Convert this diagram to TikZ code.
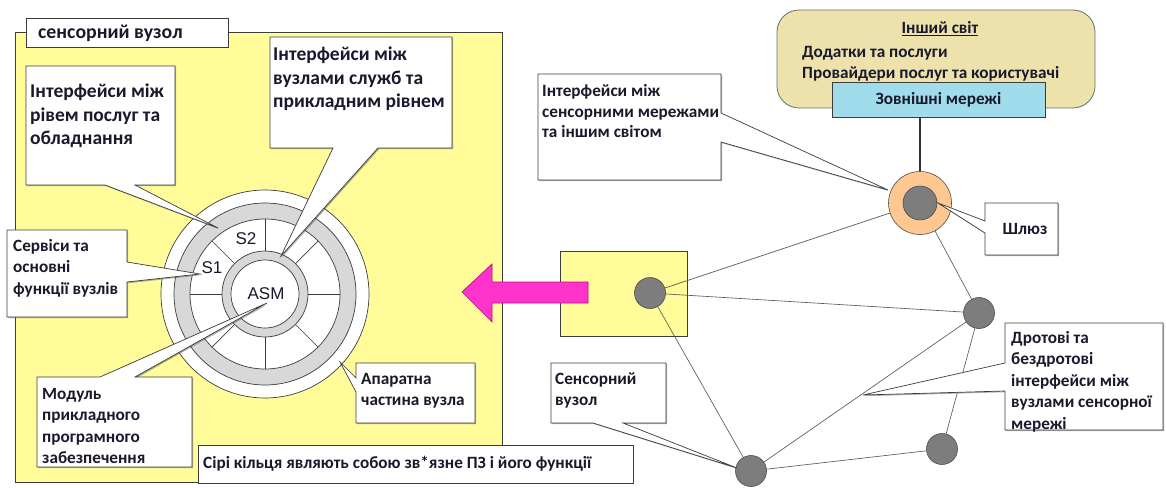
\documentclass[tikz,border=0pt]{standalone}
\usepackage{fontspec}
\setmainfont{Carlito}
\newfontfamily\arialfont{Liberation Sans}
\usetikzlibrary{shadows,calc}
\definecolor{panelyellow}{RGB}{255,252,153}
\definecolor{ringgray}{RGB}{216,216,216}
\definecolor{edgegray}{RGB}{60,60,60}
\definecolor{nodegray}{RGB}{125,125,125}
\definecolor{arrowpink}{RGB}{255,51,204}
\definecolor{arrowedge}{RGB}{170,20,130}
\definecolor{gatewayorange}{RGB}{255,200,145}
\definecolor{worldbeige}{RGB}{238,226,172}
\definecolor{worldedge}{RGB}{100,115,100}
\definecolor{netblue}{RGB}{160,220,235}
\definecolor{inkdark}{RGB}{25,25,45}
\tikzset{
  panel/.style={fill=panelyellow, draw=edgegray, line width=1pt},
  callout/.style={fill=white, draw=edgegray, line width=0.7pt,
    drop shadow={shadow xshift=1.2pt, shadow yshift=-1.2pt, fill=black!70, opacity=0.45}},
  txt/.style={inner sep=0pt, align=left, anchor=north west, text=inkdark,
    font=\fontsize{17.2}{21.5}\selectfont\bfseries},
  bigtxt/.style={txt, font=\fontsize{19.5}{23.5}\selectfont\bfseries},
  ringlabel/.style={inner sep=0pt, text=inkdark, font=\arialfont\fontsize{17}{20}\selectfont},
  ringedge/.style={draw=edgegray, line width=0.7pt},
  netline/.style={draw=black!65, line width=0.65pt},
  netnode/.style={circle, fill=nodegray, draw=black!70, line width=0.6pt,
    minimum size=31pt, inner sep=0pt},
}
\begin{document}
\begin{tikzpicture}[x=1pt, y=-1pt]
\useasboundingbox (0,0) rectangle (1166,487);

% ---- sensor node panel ----
\draw[panel] (15,33) rectangle (502,482);
\draw[callout] (26,18) rectangle (228,47);
\node[inner sep=0pt, anchor=base west, text=inkdark, font=\fontsize{19.8}{23}\selectfont\bfseries]
  (paneltitle) at (38,39) {сенсорний вузол};

% ---- ring model of the node ----
\coordinate (rc) at (265,294);
\draw[ringedge, fill=white] (rc) circle (104);
\draw[ringedge, fill=ringgray] (rc) circle (91);
\draw[ringedge, fill=white] (rc) circle (75);
\foreach \a in {0,45,...,315}
  \draw[ringedge] ($(rc)+(\a:43)$) -- ($(rc)+(\a:75)$);
\draw[ringedge, fill=ringgray] (rc) circle (43);
\draw[ringedge, fill=white] (rc) circle (34);
\node[ringlabel] (s2) at (246,239) {S2};
\node[ringlabel] (s1) at (212,268) {S1};
\node[ringlabel] (asm) at (266,294) {ASM};

% ---- callouts inside the panel ----
\draw[callout] (26,66) -- (175,66) -- (175,185) -- (135,185) -- (218,228)
  -- (105,185) -- (26,185) -- cycle;
\node[bigtxt] (hwif) at (30,81) {\strut Інтерфейси між\\рівем послуг та\\обладнання};

\draw[callout] (270,37) -- (452,37) -- (452,148) -- (378,148) -- (281,256)
  -- (333,148) -- (270,148) -- cycle;
\node[bigtxt] (appif) at (273,44) {\strut Інтерфейси між\\вузлами служб та\\прикладним рівнем};

\draw[callout] (7,230) -- (127,230) -- (127,262) -- (200,274) -- (127,282)
  -- (127,317) -- (7,317) -- cycle;
\node[txt] (svc) at (13,236) {\strut Сервіси та\\основні\\функції вузлів};

\draw[callout] (37,377) -- (100,377) -- (267,303) -- (135,377) -- (192,377)
  -- (192,467) -- (37,467) -- cycle;
\node[txt] (module) at (42,384) {\strut Модуль\\прикладного\\програмного\\забезпечення};

\draw[callout] (356,363) -- (475,363) -- (475,423) -- (356,423) -- (356,392)
  -- (340,362) -- (356,378) -- cycle;
\node[txt] (hwpart) at (361,369) {\strut Апаратна\\частина вузла};

\draw[callout] (198,445) rectangle (633,483);
\node[txt, anchor=base west] (grey) at (203,468) {Сірі кільця являють собою зв*язне ПЗ і його функції};

% ---- sensor network ----
\draw[panel, line width=0.9pt] (560,251) rectangle (687,336);
\node[netnode] (n1) at (650,293) {};
\node[netnode] (n2) at (979,313) {};
\node[netnode] (n3) at (942,449) {};
\node[netnode] (n4) at (751,471) {};

% gateway and the outside world
\draw[draw=worldedge, fill=worldbeige, line width=0.8pt, rounded corners=22pt]
  (777,10) rectangle (1095,108);
\node[inner sep=0pt, text=inkdark, font=\fontsize{17.2}{20}\selectfont\bfseries]
  (world) at (940,29) {\underline{Інший світ}};
\node[txt, anchor=base west] (apps) at (802,57) {Додатки та послуги};
\node[txt, anchor=base west] (prov) at (802,78) {Провайдери послуг та користувачі};
\node[draw=edgegray, fill=netblue, line width=0.8pt, minimum width=213pt, minimum height=35pt,
  inner sep=0pt, text=inkdark, font=\fontsize{17.2}{20}\selectfont\bfseries,
  drop shadow={shadow xshift=1pt, shadow yshift=-1pt, fill=black!60, opacity=0.4}]
  (extnet) at (938.5,99.5) {Зовнішні мережі};

\node[circle, fill=gatewayorange, draw=black!70, line width=0.6pt, minimum size=63pt,
  inner sep=0pt] (gw) at (920,203) {};
\node[netnode, minimum size=34pt] (gwcore) at (gw) {};
\draw[draw=black!80, line width=2.6pt] (gw.north) -- (gw.north |- extnet.south);

\draw[netline] (n1) -- (gw);
\draw[netline] (n1) -- (n2);
\draw[netline] (n1) -- (n4);
\draw[netline] (gw) -- (n2);
\draw[netline] (n2) -- (n4);
\draw[netline] (n2) -- (n3);
\draw[netline] (n4) -- (n3);

% transfer arrow towards the enlarged node
\draw[fill=arrowpink, draw=arrowedge, line width=0.7pt]
  (462,292) -- (492,264) -- (492,282) -- (588,282) -- (588,303) -- (492,303)
  -- (492,322) -- cycle;

% ---- callouts on the network side ----
\draw[callout] (538,74) -- (721,74) -- (721,113) -- (888,190) -- (721,142)
  -- (721,180) -- (538,180) -- cycle;
\node[txt, font=\fontsize{17.2}{20.5}\selectfont\bfseries] (gwif) at (542,82)
  {\strut Інтерфейси між\\сенсорними мережами\\та іншим світом};

\draw[callout] (985,203) -- (1058,203) -- (1058,255) -- (985,255) -- (985,233)
  -- (938,203) -- (985,221) -- cycle;
\node[inner sep=0pt, text=inkdark, font=\fontsize{17.2}{20}\selectfont\bfseries]
  (gwlabel) at (1025,229) {Шлюз};

\draw[callout] (551,363) -- (666,363) -- (666,423) -- (623,423) -- (737,468)
  -- (593,423) -- (551,423) -- cycle;
\node[txt] (snlabel) at (555,369) {\strut Сенсорний\\вузол};

\draw[callout] (1005,323) -- (1163,323) -- (1163,430) -- (1005,430) -- (1005,391)
  -- (863,395) -- (1005,363) -- cycle;
\node[txt] (links) at (1011,328) {\strut Дротові та\\бездротові\\інтерфейси між\\вузлами сенсорної\\мережі};
\end{tikzpicture}
\end{document}
